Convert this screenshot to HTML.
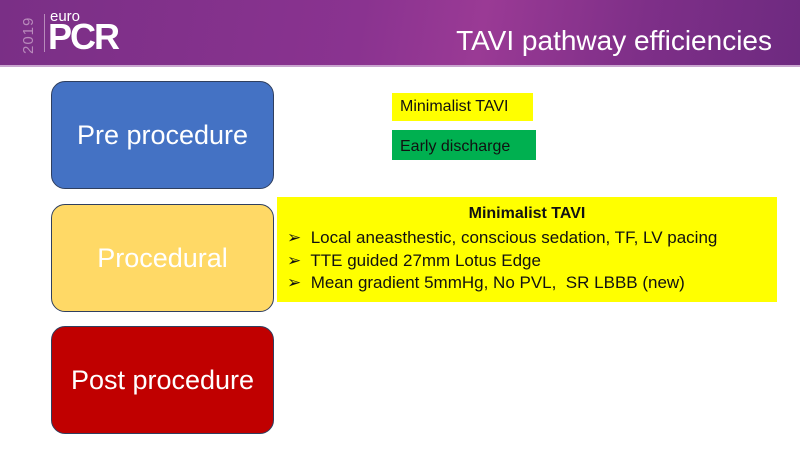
<!DOCTYPE html>
<html><head><meta charset="utf-8"><style>
body{margin:0;width:800px;height:450px;overflow:hidden;background:#fff;font-family:"Liberation Sans",sans-serif;position:relative}
.hdr{position:absolute;left:0;top:0;width:800px;height:65px;background:linear-gradient(100deg,#7a2f86 0%,#8a3390 45%,#9a3a95 60%,#7e2f88 80%,#6e2a80 100%)}
.line{position:absolute;left:0;top:65px;width:800px;height:2px;background:#c9a6cf}
.box{position:absolute;border:1px solid #2f3f5f;border-radius:14px;color:#fff;font-size:27px;display:flex;align-items:center;justify-content:center}
.t{position:absolute;font-size:16px;color:#111}
</style></head><body>
<div class="hdr"></div><div class="line"></div>
<div style="position:absolute;left:20px;top:14px;width:16px;height:40px;color:#b88abb;font-size:15px;writing-mode:vertical-rl;transform:rotate(180deg);letter-spacing:1px">2019</div>
<div style="position:absolute;left:44px;top:14px;width:1px;height:38px;background:#b88abb"></div>
<div style="position:absolute;left:50px;top:8px;color:#fff;font-size:15px">euro</div>
<div style="position:absolute;left:48px;top:19px;color:#fff;font-size:36px;font-weight:bold;letter-spacing:-2px;line-height:36px">PCR</div>
<div style="position:absolute;right:28px;top:25px;color:#fff;font-size:28px">TAVI pathway efficiencies</div>
<div class="box" style="left:51px;top:81px;width:221px;height:106px;background:#4472c4">Pre procedure</div>
<div class="box" style="left:51px;top:204px;width:221px;height:106px;background:#ffd966">Procedural</div>
<div class="box" style="left:51px;top:326px;width:221px;height:106px;background:#c00000">Post procedure</div>
<div class="t" style="left:392px;top:93px;width:141px;height:28px;background:#ffff00;line-height:28px;padding-left:8px;box-sizing:border-box">Minimalist TAVI</div>
<div class="t" style="left:392px;top:130px;width:144px;height:30px;background:#00b050;line-height:30px;padding-left:8px;box-sizing:border-box;padding-top:2px">Early discharge</div>
<div style="position:absolute;left:277px;top:197px;width:500px;height:105px;background:#ffff00;font-size:17px;color:#111">
<div style="text-align:center;font-weight:bold;margin-top:7px;line-height:20px;font-size:16px">Minimalist TAVI</div>
<div style="margin-left:10px;line-height:22.5px;margin-top:3px">➢&nbsp; Local aneasthestic, conscious sedation, TF, LV pacing<br>➢&nbsp; TTE guided 27mm Lotus Edge<br>➢&nbsp; Mean gradient 5mmHg, No PVL, &nbsp;SR LBBB (new)</div>
</div>
</body></html>
